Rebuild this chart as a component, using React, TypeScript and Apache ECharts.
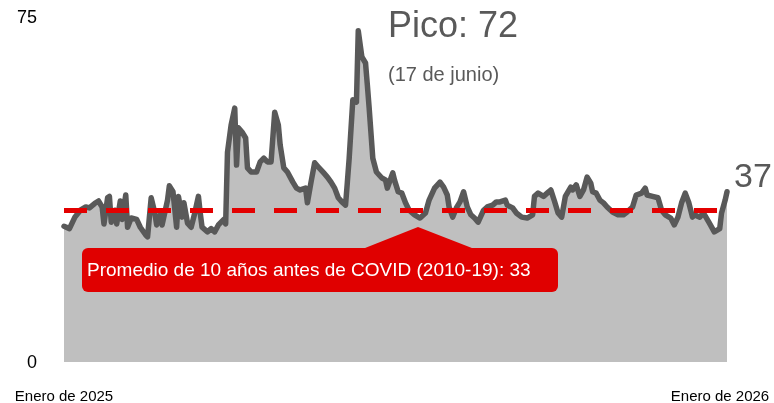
import React, { useEffect, useRef } from "react";
import * as echarts from "echarts";

// Position along the year (0 = start of January 2025, 365 = January 2026)
const dayIndex = [
  0, 3, 6, 9, 12, 14, 17, 19, 21, 22, 24, 25, 26, 28, 29, 31, 32, 34, 35, 37,
  40, 42, 45, 46, 48, 50, 51, 53, 54, 57, 58, 60, 62, 63, 65, 66, 68, 70, 72, 74,
  75, 76, 79, 81, 83, 85, 88, 89, 90, 92, 94, 95, 96, 98, 100, 101, 103, 106, 108, 110,
  112, 114, 116, 118, 119, 121, 123, 126, 128, 130, 133, 134, 136, 138, 140, 143, 145, 147, 149, 151,
  153, 155, 156, 157, 159, 161, 162, 164, 166, 167, 168, 170, 172, 175, 177, 178, 181, 182, 184, 186,
  188, 190, 193, 196, 199, 201, 204, 207, 209, 211, 212, 214, 216, 218, 220, 222, 224, 226, 228, 231,
  233, 236, 238, 240, 243, 244, 247, 249, 252, 255, 258, 259, 261, 264, 266, 268, 270, 272, 274, 276,
  279, 280, 282, 284, 286, 288, 290, 291, 293, 295, 297, 299, 302, 305, 308, 310, 313, 315, 318, 320,
  321, 324, 327, 329, 331, 334, 336, 338, 340, 342, 344, 346, 347, 350, 352, 355, 357, 358, 361, 362,
  364, 365,
];

const values = [
  29.5, 29, 31.5, 33, 33.7, 33.5, 34.5, 35, 33.7, 30, 35.7, 36, 30.4, 33, 30, 35, 31, 36.3, 29.3, 31.3,
  31, 29.3, 27.6, 27.2, 35.7, 32.4, 29.8, 32, 29.8, 35.2, 38.3, 37, 29.3, 36, 31.5, 34.6, 30.2, 29.3, 32.4, 36,
  32.4, 29.3, 28.3, 29, 28.3, 29.8, 31, 30, 45.6, 51.5, 55.2, 42.8, 50.9, 50, 48.7, 42.2, 41.3, 41.3, 43.5, 44.3,
  43.5, 43.5, 54.3, 51.5, 47.2, 42.2, 41.3, 39.1, 37.8, 37.4, 37.8, 34.6, 39.1, 43.3, 42.4, 41.1, 40.2, 39.1, 37.8, 35.7,
  34.8, 34.1, 39.1, 44.3, 57, 56.5, 72, 66.3, 65, 60.2, 55.2, 44.3, 41.3, 40, 39.6, 37.8, 41.1, 39.5, 37, 36.7,
  34.6, 33, 32, 31.3, 32.4, 35.2, 37.8, 39.1, 38, 36.3, 33.7, 31.5, 33.5, 34.8, 37, 33.7, 32, 31.3, 30.4, 33,
  33.7, 34.1, 34.8, 34.8, 35.2, 34.1, 33.5, 32.4, 31.5, 31.3, 32, 36, 36.7, 36, 36.7, 37.4, 35, 32.4, 31.5, 36,
  38, 37.4, 38.5, 36, 37.4, 40.2, 38.9, 37, 36.7, 35.2, 34.6, 33.7, 32.6, 32, 32, 32.6, 33.7, 36.3, 36.7, 37.8,
  36.3, 36, 35.7, 33, 32, 31.3, 29.8, 31.5, 34.6, 36.7, 34.6, 31.5, 32, 31.5, 32.4, 30.4, 29, 28.3, 29, 32.4,
  35.2, 37,
];

const averageLevel = 33;
const peakLabel = "Pico: 72";
const peakDate = "(17 de junio)";
const lastLabel = "37";
const averageText = "Promedio de 10 años antes de COVID (2010-19): 33";
const xEndLabels = ["Enero de 2025", "Enero de 2026"];

const FONT = "'Liberation Sans', Arial, sans-serif";

export default function App() {
  const ref = useRef<HTMLDivElement>(null);

  useEffect(() => {
    if (!ref.current) return;
    const chart = echarts.init(ref.current, undefined, { renderer: "svg" });
    const data = dayIndex.map((d, i) => [d, values[i]]);

    chart.setOption({
      animation: false,
      textStyle: { fontFamily: FONT },
      grid: { left: 64, right: 47, top: 17, bottom: 41 },
      xAxis: {
        type: "value",
        min: 0,
        max: 365,
        interval: 365,
        axisLine: { show: false },
        axisTick: { show: false },
        splitLine: { show: false },
        axisLabel: {
          margin: 26,
          fontSize: 15,
          color: "#000",
          fontFamily: FONT,
          formatter: (v: number) =>
            v === 0 ? xEndLabels[0] : "{r|" + xEndLabels[1] + "}",
          rich: { r: { fontSize: 15, color: "#000", fontFamily: FONT, padding: [0, 14, 0, 0] } },
        },
      },
      yAxis: {
        type: "value",
        min: 0,
        max: 75,
        interval: 75,
        axisLine: { show: false },
        axisTick: { show: false },
        splitLine: { show: false },
        axisLabel: { margin: 27, fontSize: 18, color: "#000", fontFamily: FONT },
      },
      series: [
        {
          type: "line",
          data,
          symbol: "none",
          lineStyle: { color: "#595959", width: 5.5, join: "round", cap: "round" },
          areaStyle: { color: "#bfbfbf", opacity: 1 },
          z: 2,
          markLine: {
            silent: true,
            symbol: "none",
            label: { show: false },
            lineStyle: { color: "#e30000", width: 5, type: [23, 19], opacity: 1 },
            data: [{ yAxis: averageLevel }],
            z: 3,
          },
        },
      ],
      graphic: [
        {
          type: "text",
          left: 388,
          top: 6,
          style: { text: peakLabel, fontSize: 36, fill: "#595959", fontFamily: FONT },
        },
        {
          type: "text",
          left: 388,
          top: 64,
          style: { text: peakDate, fontSize: 20, fill: "#595959", fontFamily: FONT },
        },
        {
          type: "text",
          left: 734,
          top: 158,
          style: { text: lastLabel, fontSize: 34, fill: "#595959", fontFamily: FONT },
        },
        {
          type: "polygon",
          shape: { points: [[360, 250], [418, 227], [477, 250]] },
          style: { fill: "#e00000" },
          z: 10,
        },
        {
          type: "rect",
          shape: { x: 82, y: 248, width: 476, height: 44, r: 6 },
          style: { fill: "#e00000" },
          z: 10,
        },
        {
          type: "text",
          left: 87,
          top: 260,
          style: { text: averageText, fontSize: 19, fill: "#fff", fontFamily: FONT },
          z: 11,
        },
      ],
    });

    return () => chart.dispose();
  }, []);

  return (
    <div
      ref={ref}
      style={{ position: "fixed", left: 0, top: 0, width: 774, height: 403 }}
    />
  );
}
